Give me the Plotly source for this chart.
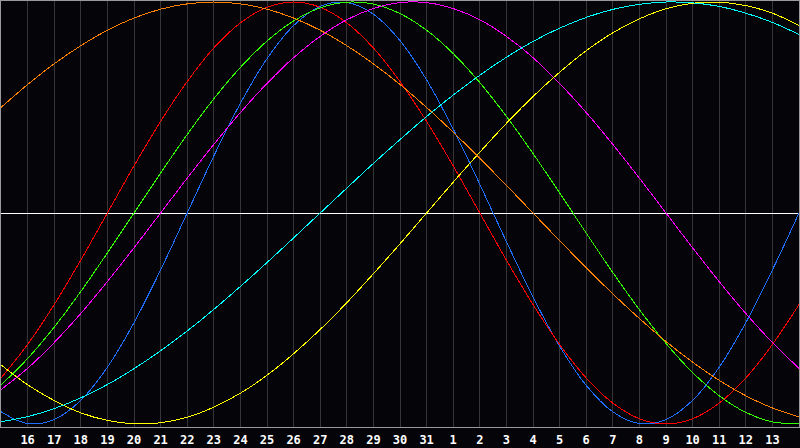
import plotly.graph_objects as go

# Day index 0..30 (index 0 = the 15th, index 15 = today, the 30th)
day_index = list(range(31))
tick_index = list(range(1, 30))
tick_labels = ["16", "17", "18", "19", "20", "21", "22", "23", "24", "25", "26", "27",
               "28", "29", "30", "31", "1", "2", "3", "4", "5", "6", "7", "8", "9",
               "10", "11", "12", "13"]
today_index = 15

# Cycle values in percent, read at each day
physical = [-94.2, -99.8, -97.9, -88.8, -73.1, -52.0, -27.0, 0, 27.0, 52.0, 73.1, 88.8, 97.9,
            99.8, 94.2, 81.7, 63.1, 39.8, 13.6, -13.6, -39.8, -63.1, -81.7, -94.2, -99.8, -97.9,
            -88.8, -73.1, -52.0, -27.0, 0]
emotional = [-78.2, -62.3, -43.4, -22.3, 0, 22.3, 43.4, 62.3, 78.2, 90.1, 97.5, 100, 97.5, 90.1,
             78.2, 62.3, 43.4, 22.3, 0, -22.3, -43.4, -62.3, -78.2, -90.1, -97.5, -100, -97.5,
             -90.1, -78.2, -62.3, -43.4]
intellectual = [-81.5, -69.0, -54.1, -37.2, -18.9, 0, 18.9, 37.2, 54.1, 69.0, 81.5, 91.0, 97.2,
                99.9, 99.0, 94.5, 86.6, 75.6, 61.8, 45.8, 28.2, 9.5, -9.5, -28.2, -45.8, -61.8,
                -75.6, -86.6, -94.5, -99.0, -99.9]
intuitive = [-83.7, -73.6, -61.4, -47.6, -32.5, -16.5, 0, 16.5, 32.5, 47.6, 61.4, 73.6, 83.7,
             91.6, 96.9, 99.7, 99.7, 96.9, 91.6, 83.7, 73.6, 61.4, 47.6, 32.5, 16.5, 0, -16.5,
             -32.5, -47.6, -61.4, -73.6]
aesthetic = [-72.0, -81.4, -88.9, -94.7, -98.3, -99.9, -99.4, -96.8, -92.0, -85.4, -76.9, -66.7,
             -55.2, -42.5, -28.8, -14.6, 0, 14.6, 28.8, 42.5, 55.2, 66.7, 76.9, 85.4, 92.0, 96.8,
             99.4, 99.9, 98.3, 94.7, 88.9]
awareness = [50.0, 60.9, 70.7, 79.3, 86.6, 92.4, 96.6, 99.1, 100, 99.1, 96.6, 92.4, 86.6, 79.3,
             70.7, 60.9, 50.0, 38.3, 25.9, 13.1, 0, -13.1, -25.9, -38.3, -50.0, -60.9, -70.7,
             -79.3, -86.6, -92.4, -96.6]
spiritual = [-98.9, -96.5, -92.7, -87.6, -81.3, -73.8, -65.3, -55.9, -45.7, -34.8, -23.5, -11.8,
             0, 11.8, 23.5, 34.8, 45.7, 55.9, 65.3, 73.8, 81.3, 87.6, 92.7, 96.5, 98.9, 100.0,
             99.6, 97.9, 94.7, 90.3, 84.6]

series = [
    ("Physical", physical, "#1e6eff"),
    ("Emotional", emotional, "#ff0000"),
    ("Intellectual", intellectual, "#33ff00"),
    ("Intuitive", intuitive, "#ff00ff"),
    ("Aesthetic", aesthetic, "#ffff00"),
    ("Awareness", awareness, "#ff8000"),
    ("Spiritual", spiritual, "#00ffff"),
]

fig = go.Figure()
for name, vals, color in series:
    fig.add_trace(go.Scatter(
        x=day_index, y=vals, mode="lines", name=name,
        line=dict(color=color, width=1, shape="spline", smoothing=1.0),
        hoverinfo="skip",
    ))

bg = "#050409"
fig.update_layout(
    width=800, height=448,
    margin=dict(l=1, r=1, t=1, b=21),
    paper_bgcolor=bg, plot_bgcolor=bg,
    showlegend=False,
    xaxis=dict(
        range=[0, 30], tickvals=tick_index, ticktext=tick_labels,
        showgrid=True, gridcolor="#363636", gridwidth=1,
        zeroline=False, showline=True, linecolor="#9a9a9a", linewidth=1, mirror=True,
        ticks="", ticklabelstandoff=2,
        tickfont=dict(family="DejaVu Sans Mono", size=12, color="#ffffff", weight="bold"),
        fixedrange=True,
    ),
    yaxis=dict(
        range=[-101.42, 100.47], showgrid=False, showticklabels=False,
        zeroline=True, zerolinecolor="#ffffff", zerolinewidth=1,
        showline=True, linecolor="#9a9a9a", linewidth=1, mirror=True,
        ticks="", fixedrange=True,
    ),
    shapes=[dict(type="line", xref="x", yref="paper", x0=today_index, x1=today_index,
                 y0=0, y1=1, line=dict(color="#ffffff", width=1), layer="between")],
)

post = ("document.body.style.margin='0';document.body.style.background='%s';"
        "document.querySelectorAll('svg').forEach(function(s){"
        "s.style.shapeRendering='crispEdges';});"
        "document.querySelectorAll('path').forEach(function(p){"
        "p.style.shapeRendering='crispEdges';});" % bg)
fig.write_html("out.html", post_script=post, config={"staticPlot": True})
